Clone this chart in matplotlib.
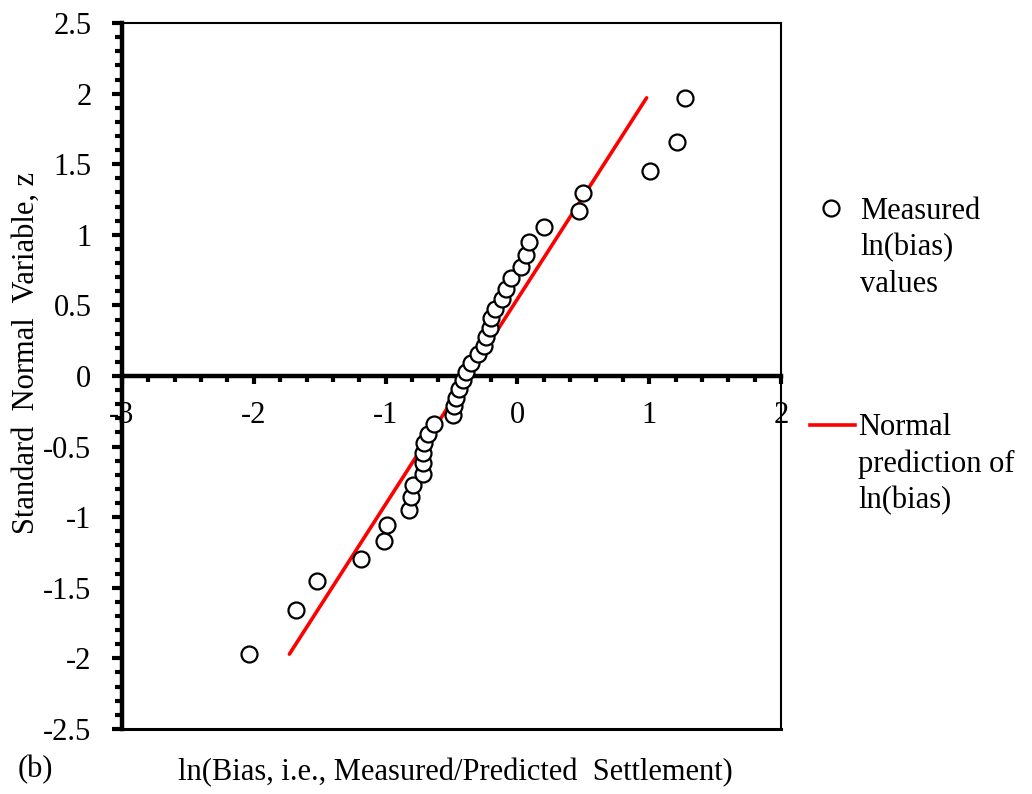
import matplotlib
matplotlib.use("Agg")
import matplotlib.pyplot as plt
from matplotlib.lines import Line2D
from matplotlib.ticker import MultipleLocator

plt.rcParams['font.family'] = ['Liberation Serif', 'DejaVu Serif']

# ln(bias) of the measured cases, sorted, and their standard normal variates
ln_bias = [-2.04, -1.68, -1.52, -1.19, -1.01, -0.99, -0.82, -0.81, -0.79, -0.72,
           -0.72, -0.715, -0.71, -0.68, -0.63, -0.49, -0.48, -0.465, -0.44, -0.41,
           -0.39, -0.35, -0.30, -0.25, -0.235, -0.21, -0.20, -0.17, -0.115, -0.09,
           -0.05, 0.03, 0.063, 0.09, 0.205, 0.467, 0.497, 1.006, 1.213, 1.273]
z_vals = [-1.971, -1.657, -1.452, -1.296, -1.166, -1.052, -0.951, -0.859, -0.774, -0.694,
          -0.618, -0.546, -0.476, -0.409, -0.343, -0.279, -0.216, -0.153, -0.092, -0.031,
          0.031, 0.092, 0.153, 0.216, 0.279, 0.343, 0.409, 0.476, 0.546, 0.618,
          0.694, 0.774, 0.859, 0.951, 1.052, 1.166, 1.296, 1.452, 1.657, 1.971]

# fitted normal line
fit_x = [-1.73, 0.98]
fit_z = [-1.97, 1.97]

x_ticks = [-3, -2, -1, 0, 1, 2]
y_ticks = [-2.5, -2, -1.5, -1, -0.5, 0, 0.5, 1, 1.5, 2, 2.5]

fs = 22

fig = plt.figure(figsize=(10.32, 7.94), dpi=100)
ax = fig.add_axes([0.1182, 0.0819, 0.6386, 0.8891])

ax.plot(fit_x, fit_z, color='red', lw=2.6, solid_capstyle='round', zorder=2)
ax.plot(ln_bias, z_vals, 'o', ms=11.5, mfc='white', mec='black', mew=1.6, zorder=3)

ax.set_xlim(-3, 2)
ax.set_ylim(-2.5, 2.5)

ax.spines['bottom'].set_position(('data', 0))
ax.spines['bottom'].set_linewidth(3.2)
ax.spines['left'].set_linewidth(3.2)
ax.spines['top'].set_linewidth(1.5)
ax.spines['right'].set_linewidth(1.5)
ax.axhline(-2.5, color='black', lw=2.2, clip_on=False, zorder=4)

ax.xaxis.set_minor_locator(MultipleLocator(0.2))
ax.yaxis.set_minor_locator(MultipleLocator(0.1))
ax.set_xticks(x_ticks)
ax.set_xticklabels([f'{v:g}' for v in x_ticks])
ax.set_yticks(y_ticks)
ax.set_yticklabels([f'{v:g}' for v in y_ticks])

ax.tick_params(axis='x', which='major', direction='out', length=6, width=3, pad=12, labelsize=fs)
ax.tick_params(axis='x', which='minor', direction='out', length=4.5, width=3)
ax.tick_params(axis='y', which='major', direction='out', length=7, width=3, pad=15, labelsize=fs)
ax.tick_params(axis='y', which='minor', direction='out', length=5, width=3)

fig.text(26 / 1032, 1 - 353 / 794, 'Standard  Normal  Variable, z', rotation=90,
         ha='center', va='center', fontsize=fs)
fig.text(455 / 1032, 1 - 773 / 794, 'ln(Bias, i.e., Measured/Predicted  Settlement)',
         ha='center', va='center', fontsize=fs)
fig.text(18 / 1032, 1 - 770 / 794, '(b)', ha='left', va='center', fontsize=fs)

# legend entries drawn beside the axes
fig.add_artist(Line2D([831 / 1032], [1 - 208 / 794], transform=fig.transFigure, marker='o',
                      ms=11.5, mfc='white', mec='black', mew=1.6, ls='none'))
fig.text(860 / 1032, 1 - 197 / 794, 'Measured\nln(bias)\nvalues', ha='left', va='top',
         fontsize=fs, linespacing=1.33)
fig.add_artist(Line2D([810 / 1032, 855 / 1032], [1 - 425 / 794, 1 - 425 / 794],
                      transform=fig.transFigure, color='red', lw=2.6))
fig.text(858 / 1032, 1 - 413 / 794, 'Normal\nprediction of\nln(bias)', ha='left', va='top',
         fontsize=fs, linespacing=1.33)

fig.savefig('out.png', dpi=100)
